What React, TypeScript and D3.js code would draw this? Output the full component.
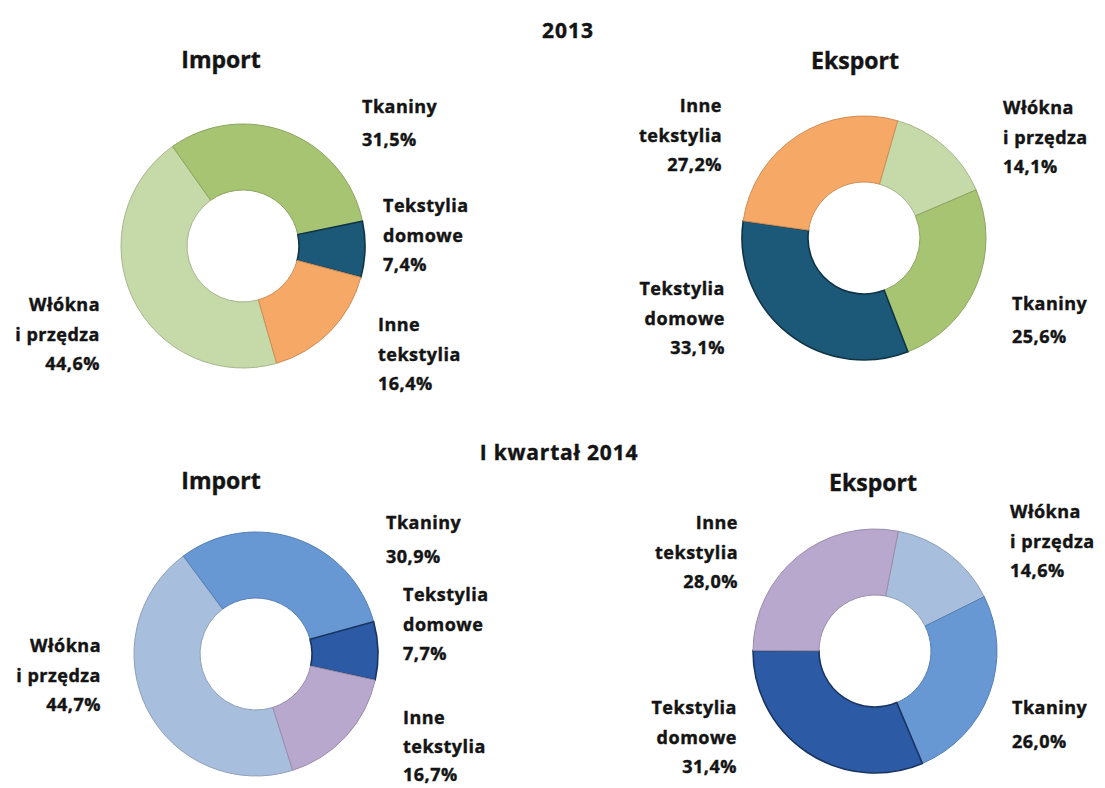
import React from "react";
import * as d3 from "d3";

const categories = ["Włókna\ni przędza", "Tkaniny", "Tekstylia\ndomowe", "Inne\ntekstylia"];

const import2013 = [44.6, 31.5, 7.4, 16.4];
const export2013 = [14.1, 25.6, 33.1, 27.2];
const import2014 = [44.7, 30.9, 7.7, 16.7];
const export2014 = [14.6, 26.0, 31.4, 28.0];

const colors2013 = ["#c6d9a8", "#a7c472", "#1c5878", "#f6a866"];
const colors2014 = ["#a8bedd", "#6798d4", "#2d5aa5", "#b8a8cd"];

const sectionTitles = ["2013", "I kwartał 2014"];
const chartTitles = ["Import", "Eksport"];

type LabelPos = { x: number; y: number; anchor: "start" | "end"; valueGap?: number; line?: number };
type ChartCfg = {
  values: number[];
  colors: string[];
  cx: number;
  cy: number;
  start: number; // degrees, clockwise from 12 o'clock
  title: string;
  tx: number;
  ty: number;
  labels: LabelPos[];
};

const charts: ChartCfg[] = [
  {
    values: import2013, colors: colors2013, cx: 243, cy: 246, start: 164,
    title: chartTitles[0], tx: 221, ty: 59,
    labels: [
      { x: 100, y: 304, anchor: "end" },
      { x: 362, y: 106, anchor: "start", valueGap: 33 },
      { x: 383, y: 205, anchor: "start" },
      { x: 378, y: 324, anchor: "start" },
    ],
  },
  {
    values: export2013, colors: colors2013, cx: 864, cy: 238, start: 16,
    title: chartTitles[1], tx: 855, ty: 60,
    labels: [
      { x: 1003, y: 107, anchor: "start" },
      { x: 1012, y: 303, anchor: "start", valueGap: 33 },
      { x: 725, y: 288, anchor: "end" },
      { x: 722, y: 105, anchor: "end" },
    ],
  },
  {
    values: import2014, colors: colors2014, cx: 256, cy: 654, start: 162.5,
    title: chartTitles[0], tx: 221, ty: 480,
    labels: [
      { x: 101, y: 645, anchor: "end" },
      { x: 386, y: 522, anchor: "start", valueGap: 34 },
      { x: 403, y: 594, anchor: "start" },
      { x: 403, y: 717, anchor: "start", line: 28.5 },
    ],
  },
  {
    values: export2014, colors: colors2014, cx: 875, cy: 651, start: 11,
    title: chartTitles[1], tx: 873, ty: 482,
    labels: [
      { x: 1010, y: 511, anchor: "start" },
      { x: 1012, y: 707, anchor: "start", valueGap: 34 },
      { x: 737, y: 707, anchor: "end" },
      { x: 738, y: 522, anchor: "end" },
    ],
  },
];

const OUTER = 122;
const INNER = 56;
const LINE = 29.5;
const FONT = "'Open Sans', 'Noto Sans', sans-serif";
const TEXT = "#141414";

const fmt = (v: number) => v.toFixed(1).replace(".", ",") + "%";

function Donut({ cfg }: { cfg: ChartCfg }) {
  const s = (cfg.start * Math.PI) / 180;
  const pie = d3
    .pie<number>()
    .sort(null)
    .value((d) => d)
    .startAngle(s)
    .endAngle(s + 2 * Math.PI);
  const arc = d3.arc<d3.PieArcDatum<number>>().innerRadius(INNER).outerRadius(OUTER);
  const arcs = pie(cfg.values);
  return (
    <g>
      <g transform={`translate(${cfg.cx},${cfg.cy})`}>
        {arcs.map((a, i) => (
          <path
            key={i}
            d={arc(a) || ""}
            fill={cfg.colors[i]}
            stroke={d3.color(cfg.colors[i])!.darker(i === 2 ? 1.5 : 0.5).toString()}
            strokeWidth={i === 2 ? 1.6 : 1}
          />
        ))}
      </g>
      <text
        x={cfg.tx}
        y={cfg.ty}
        textAnchor="middle"
        dominantBaseline="central"
        fontFamily={FONT}
        fontWeight={700}
        fontSize={23}
        fill={TEXT}
        stroke={TEXT}
        strokeWidth={0.4}
      >
        {cfg.title}
      </text>
      {cfg.labels.map((l, i) => {
        const lh = l.line ?? LINE;
        const lines = categories[i].split("\n");
        const ys: number[] = lines.map((_, k) => l.y + k * lh);
        const valueY = lines.length === 1 ? l.y + (l.valueGap ?? lh) : l.y + lines.length * lh;
        return (
          <text
            key={i}
            textAnchor={l.anchor}
            dominantBaseline="central"
            fontFamily={FONT}
            fontWeight={700}
            fontSize={18}
            letterSpacing={0.5}
            fill={TEXT}
            stroke={TEXT}
            strokeWidth={0.4}
          >
            {lines.map((t, k) => (
              <tspan key={k} x={l.x} y={ys[k]}>
                {t}
              </tspan>
            ))}
            <tspan x={l.x} y={valueY}>
              {fmt(cfg.values[i])}
            </tspan>
          </text>
        );
      })}
    </g>
  );
}

export default function App() {
  return (
    <svg
      width={1105}
      height={788}
      style={{ position: "absolute", left: 0, top: 0, background: "#ffffff" }}
    >
      <rect x={0} y={0} width={1105} height={788} fill="#ffffff" />
      <text x={568} y={30} textAnchor="middle" dominantBaseline="central" fontFamily={FONT} fontWeight={700} fontSize={21} letterSpacing={1} fill={TEXT} stroke={TEXT} strokeWidth={0.4}>
        {sectionTitles[0]}
      </text>
      <text x={559} y={452} textAnchor="middle" dominantBaseline="central" fontFamily={FONT} fontWeight={700} fontSize={21} letterSpacing={0.8} fill={TEXT} stroke={TEXT} strokeWidth={0.4}>
        {sectionTitles[1]}
      </text>
      {charts.map((c, i) => (
        <Donut key={i} cfg={c} />
      ))}
    </svg>
  );
}
